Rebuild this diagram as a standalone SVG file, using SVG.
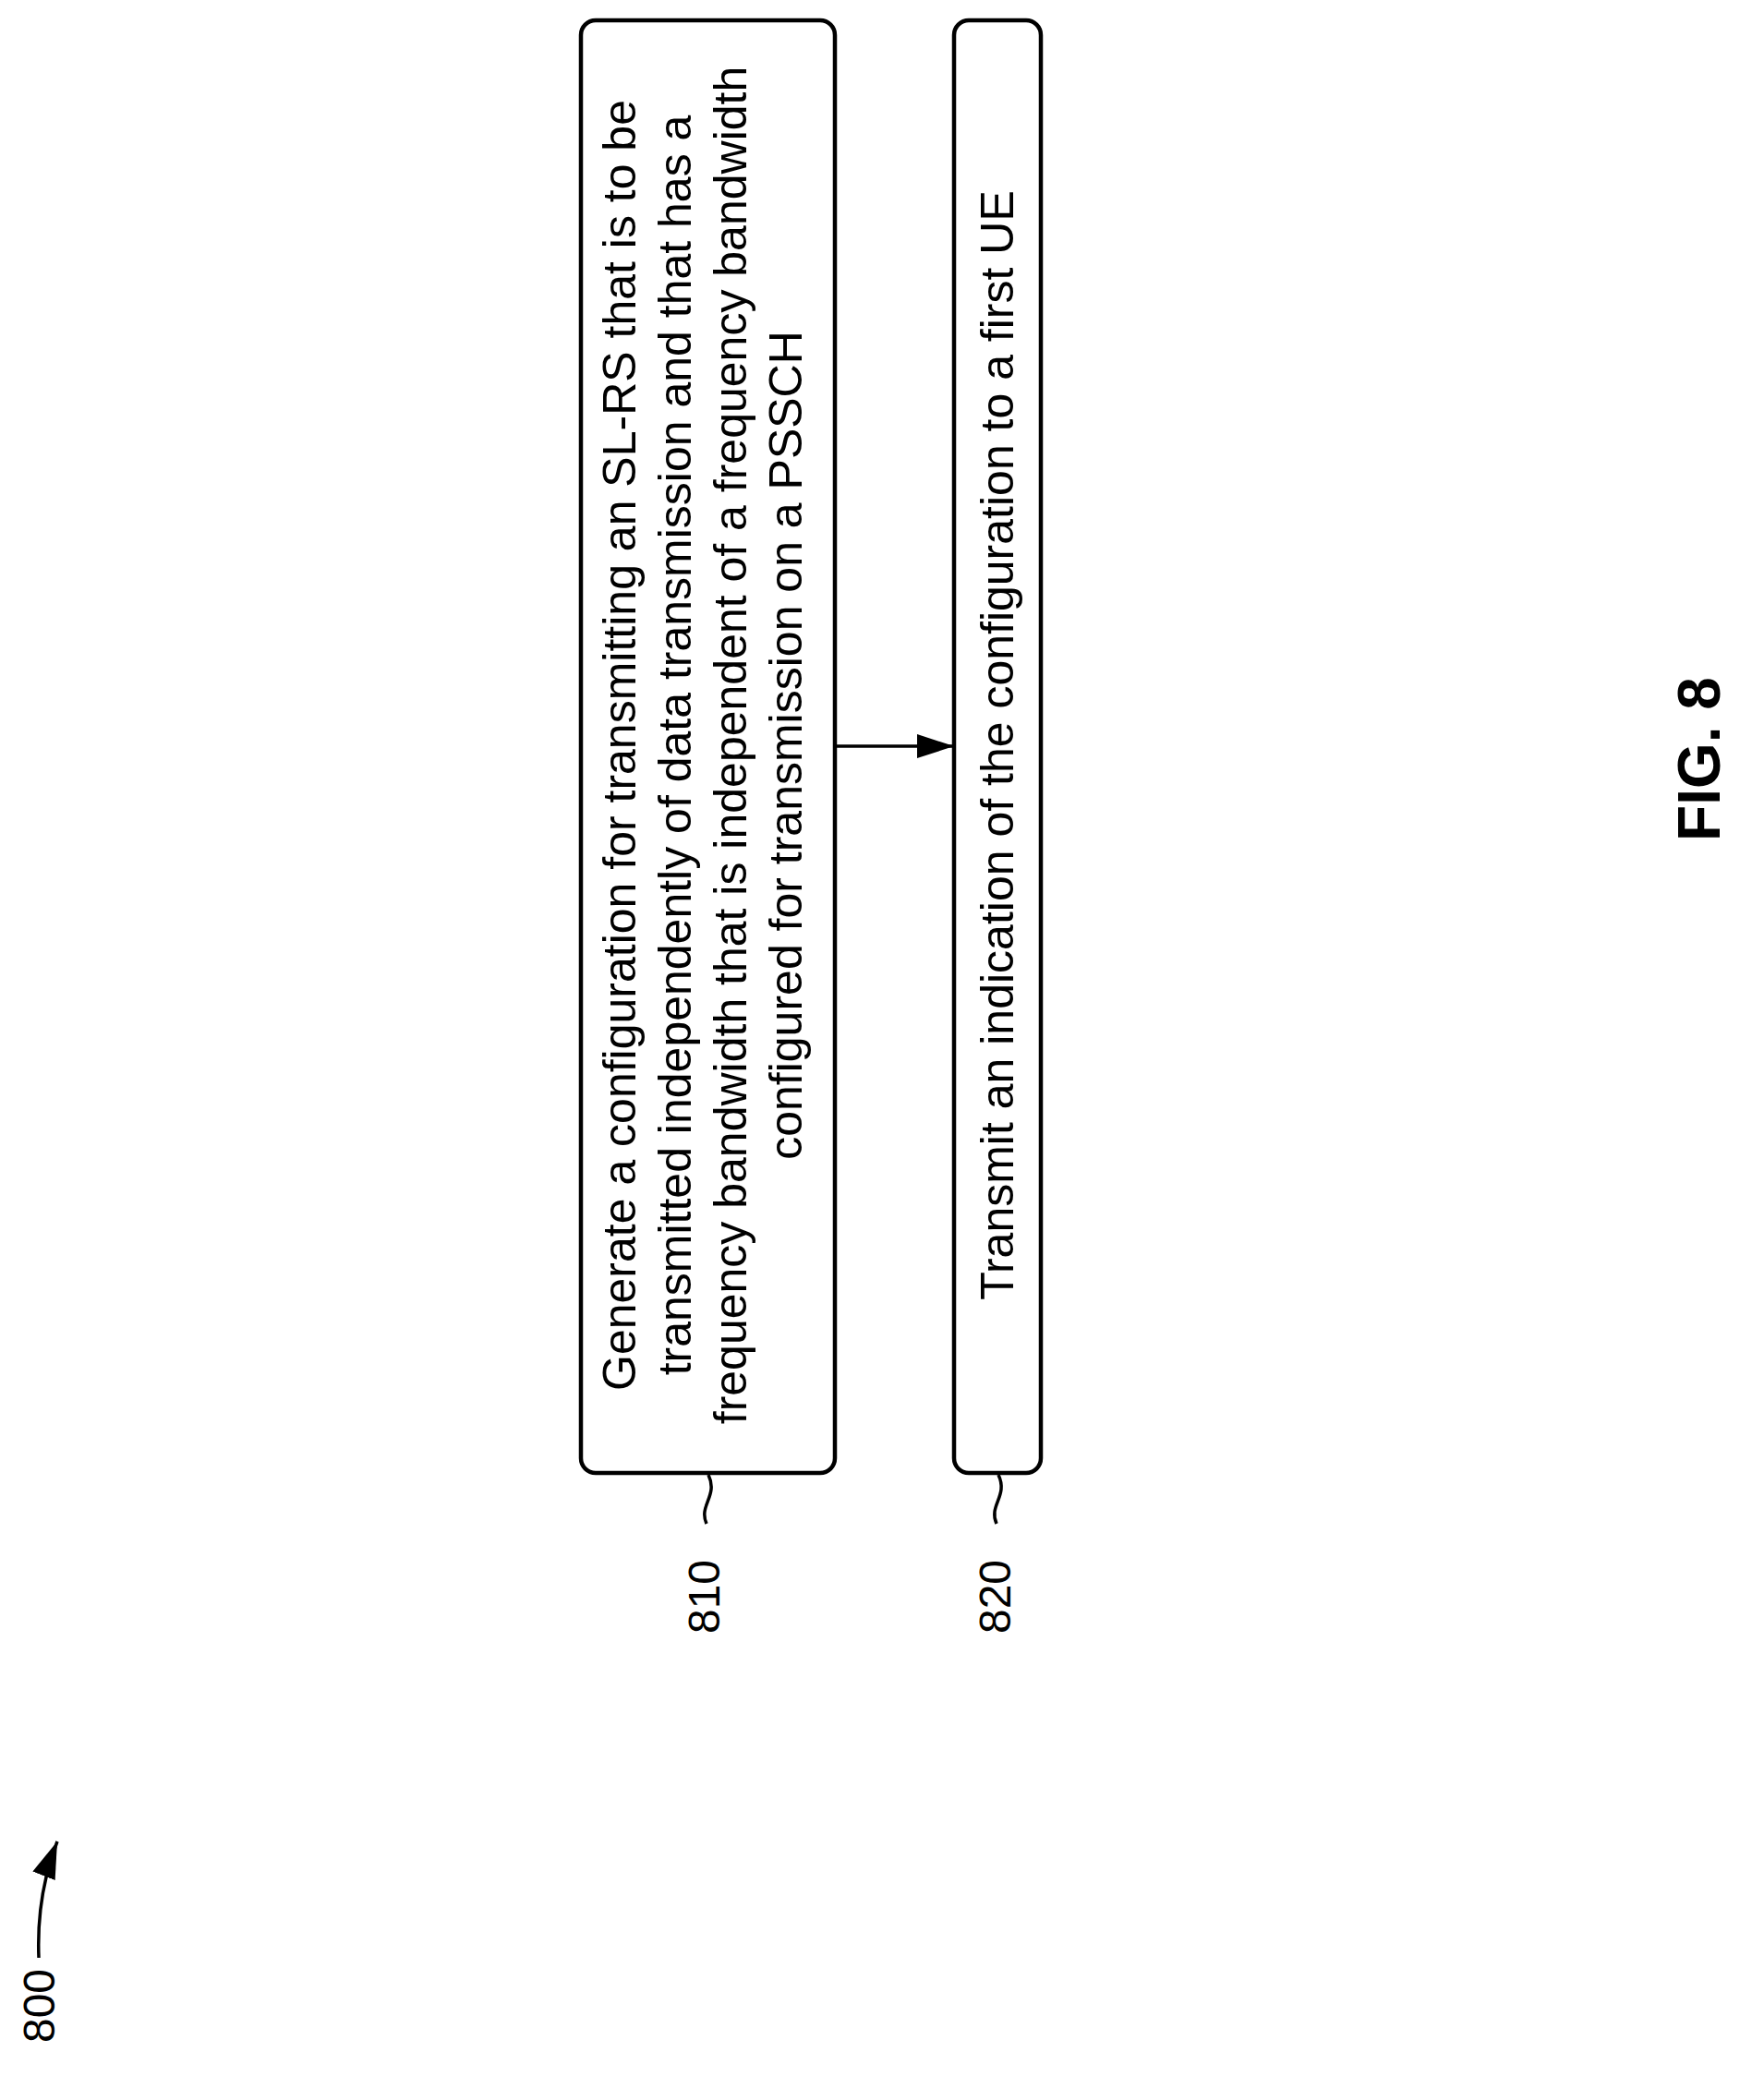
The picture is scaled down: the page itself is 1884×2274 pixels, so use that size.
<svg xmlns="http://www.w3.org/2000/svg" width="1884" height="2274" viewBox="0 0 1884 2274">
<style>
.box{fill:#fff;stroke:#000;stroke-width:4.5}
.t{font-family:"Liberation Sans",Arial,sans-serif;font-size:50px;fill:#000;text-anchor:middle}
.lb{font-family:"Liberation Sans",Arial,sans-serif;font-size:48px;fill:#000;text-anchor:middle}
.ln{fill:none;stroke:#000;stroke-width:3.5}
</style>
<defs>
<marker id="ah2" markerWidth="40" markerHeight="26" refX="40" refY="13" orient="auto" markerUnits="userSpaceOnUse"><path d="M0,0 L40,13 L0,26 z"/></marker>
</defs>
<rect width="1884" height="2274" fill="#fff"/>
<g id="n810">
<rect class="box" x="629" y="22" width="275" height="1573" rx="16"/>
<text class="t" transform="translate(808,807) rotate(-90)"><tspan x="0" y="-120">Generate a configuration for transmitting an SL-RS that is to be</tspan><tspan x="0" y="-60">transmitted independently of data transmission and that has a</tspan><tspan x="0" y="0">frequency bandwidth that is independent of a frequency bandwidth</tspan><tspan x="0" y="60">configured for transmission on a PSSCH</tspan></text>
<path class="ln" d="M767,1597 C778,1620 756,1630 765,1650"/>
<text class="lb" transform="translate(779,1729) rotate(-90)">810</text>
</g>
<g id="n820">
<rect class="box" x="1033" y="22" width="94" height="1573" rx="16"/>
<text class="t" transform="translate(1097,807) rotate(-90)">Transmit an indication of the configuration to a first UE</text>
<path class="ln" d="M1081,1597 C1092,1620 1070,1630 1079,1650"/>
<text class="lb" transform="translate(1094,1729) rotate(-90)">820</text>
</g>
<g id="connectors">
<line class="ln" x1="904" y1="808" x2="1033" y2="808" marker-end="url(#ah2)"/>
<path class="ln" d="M42,2120 C40,2070 48,2030 62,1994" marker-end="url(#ah2)"/>
</g>
<text class="lb" transform="translate(59,2172) rotate(-90)">800</text>
<text class="t" style="font-weight:bold;font-size:64px" transform="translate(1862,822) rotate(-90)">FIG. 8</text>
</svg>
